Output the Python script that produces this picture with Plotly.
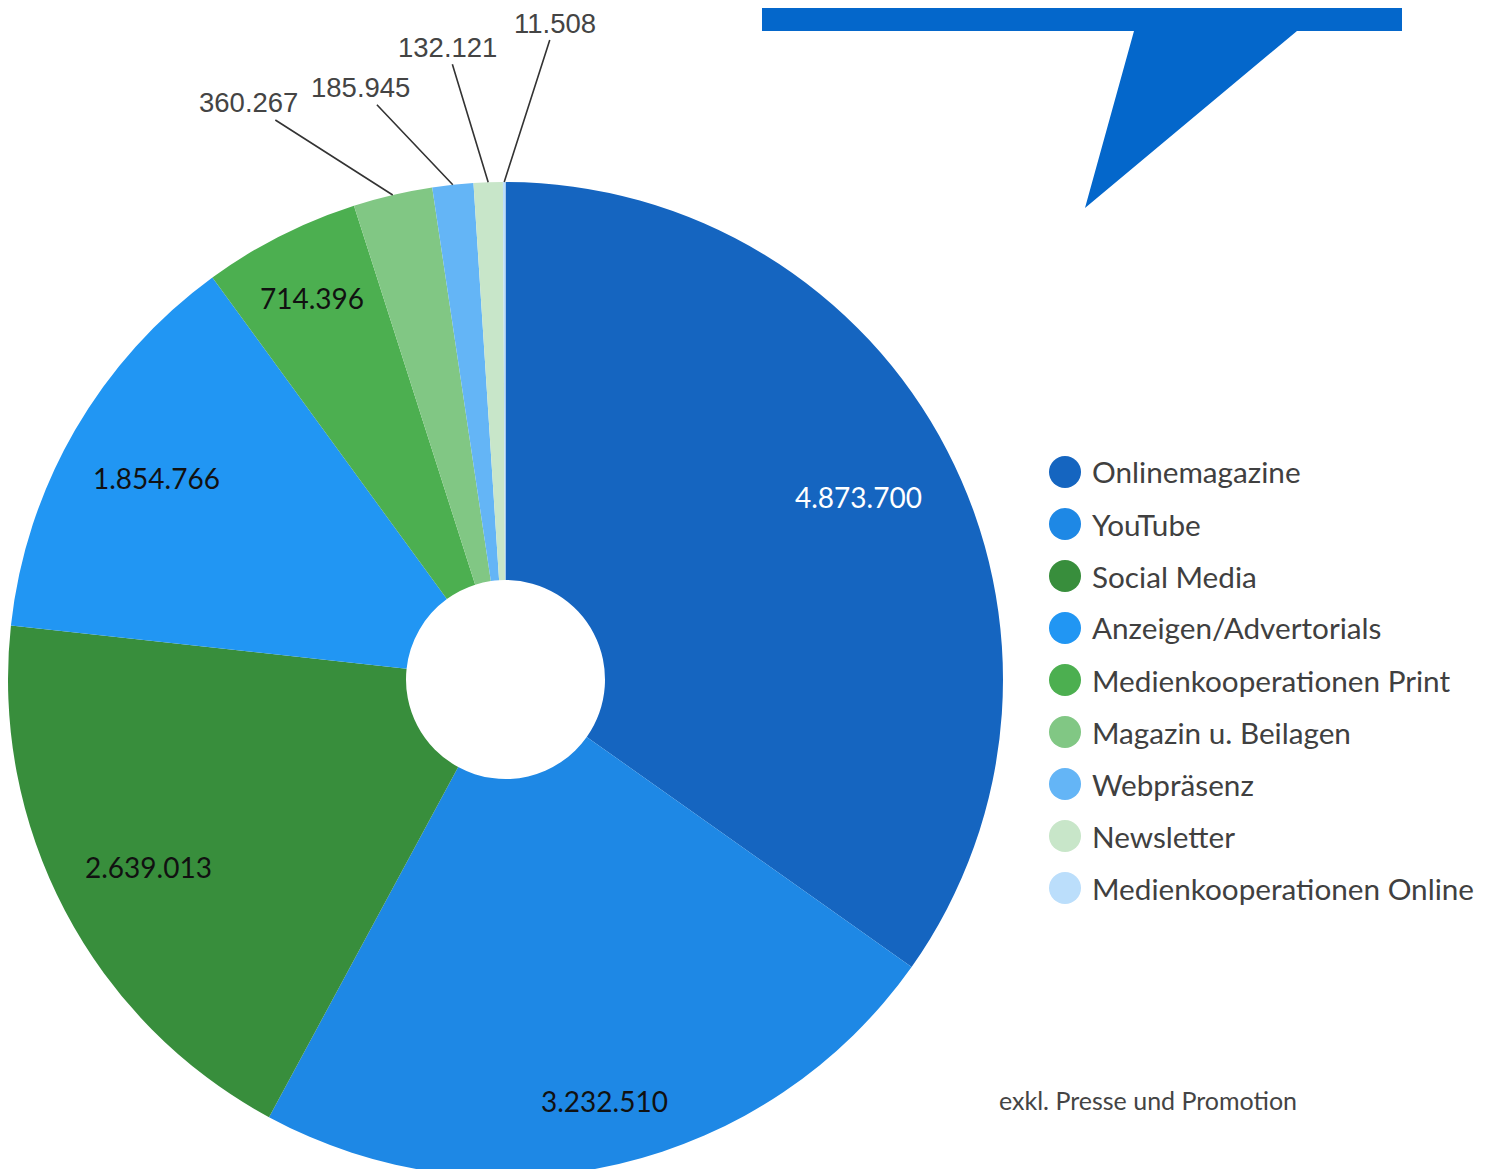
import math
import plotly.graph_objects as go

# Daten
kategorien = [
    "Onlinemagazine",
    "YouTube",
    "Social Media",
    "Anzeigen/Advertorials",
    "Medienkooperationen Print",
    "Magazin u. Beilagen",
    "Webpräsenz",
    "Newsletter",
    "Medienkooperationen Online",
]
werte = [4873700, 3232510, 2639013, 1854766, 714396, 360267, 185945, 132121, 11508]
farben = [
    "#1565C0", "#1E88E5", "#388E3C", "#2196F3", "#4CAF50",
    "#81C784", "#64B5F6", "#C8E6C9", "#BBDEFB",
]

W, H = 1491, 1169
OFF = 8  # Seitenrand des Browsers


def fmt(v):
    return f"{v:,}".replace(",", ".")


def px(x, y):
    """Bildschirm-Pixel -> Paper-Koordinaten."""
    return (x - OFF) / W, 1 - (y - OFF) / H


# Tortengeometrie (in Bildschirmpixeln)
top, bottom = 182, H + OFF
R = (bottom - top) / 2
cx = OFF + R
cy = top + R
dom_x = [0, 2 * R / W]
dom_y = [0, 1 - (top - OFF) / H]

fig = go.Figure(
    go.Pie(
        labels=kategorien,
        values=werte,
        marker=dict(colors=farben, line=dict(width=0)),
        hole=0.2,
        sort=False,
        direction="clockwise",
        rotation=0,
        textinfo="none",
        hoverinfo="label+value",
        showlegend=False,
        domain=dict(x=dom_x, y=dom_y),
    )
)

gesamt = sum(werte)
mitten = []
acc = 0
for v in werte:
    mitten.append((acc + v / 2) / gesamt * 2 * math.pi)
    acc += v

annotations = []

# Beschriftungen innerhalb der großen Segmente
innen_r = [0.80, 0.87, 0.81, 0.81, 0.86]
innen_farbe = ["#ffffff", "#111111", "#111111", "#111111", "#111111"]
for i, rf in enumerate(innen_r):
    a = mitten[i]
    x, y = px(cx + rf * R * math.sin(a), cy - rf * R * math.cos(a))
    annotations.append(dict(
        x=x, y=y, xref="paper", yref="paper", text=fmt(werte[i]),
        xanchor="center", yanchor="middle", showarrow=False,
        font=dict(family="Lato", size=28, color=innen_farbe[i]),
    ))

# kleine Segmente: Beschriftung außen mit Führungslinie
aussen_offset = [(-144, -92), (-92, -97), (-41, -135), (51, -159)]
for k, (ax, ay) in enumerate(aussen_offset):
    i = 5 + k
    a = mitten[i]
    x, y = px(cx + R * math.sin(a), cy - R * math.cos(a))
    annotations.append(dict(
        x=x, y=y, xref="paper", yref="paper", text=fmt(werte[i]),
        showarrow=True, arrowhead=0, arrowwidth=1.6, arrowcolor="#333333",
        ax=ax, ay=ay, standoff=0,
        font=dict(family="Liberation Sans", size=27.5, color="#444444"),
    ))

# Legende (manuell, runde Marker)
shapes = []
for i, (name, farbe) in enumerate(zip(kategorien, farben)):
    yc = 472 + 52 * i
    x0, y0 = px(1049, yc - 16)
    x1, y1 = px(1081, yc + 16)
    shapes.append(dict(type="circle", xref="paper", yref="paper",
                       x0=x0, x1=x1, y0=y1, y1=y0,
                       fillcolor=farbe, line=dict(width=0)))
    tx, ty = px(1090, yc)
    annotations.append(dict(
        x=tx, y=ty, xref="paper", yref="paper", text=name,
        xanchor="left", yanchor="middle", showarrow=False,
        font=dict(family="Lato", size=29.7, color="#404040"),
    ))

# Fußnote
fx, fy = px(997, 1100)
annotations.append(dict(
    x=fx, y=fy, xref="paper", yref="paper", text="exkl. Presse und Promotion",
    xanchor="left", yanchor="middle", showarrow=False,
    font=dict(family="Lato", size=25, color="#444444"),
))

# blaue Sprechblase oben rechts
ecken = [(762, 0), (1402, 0), (1402, 31), (1297, 31), (1085, 208), (1134, 31), (762, 31)]
pfad = "M " + " L ".join(f"{px(x, y)[0]:.5f},{px(x, y)[1]:.5f}" for x, y in ecken) + " Z"
shapes.append(dict(type="path", xref="paper", yref="paper", path=pfad,
                   fillcolor="#0467CB", line=dict(width=0), layer="below"))

fig.update_layout(
    width=W,
    height=H,
    margin=dict(l=0, r=0, t=0, b=0),
    paper_bgcolor="white",
    plot_bgcolor="white",
    annotations=annotations,
    shapes=shapes,
)

fig.write_html("out.html")
